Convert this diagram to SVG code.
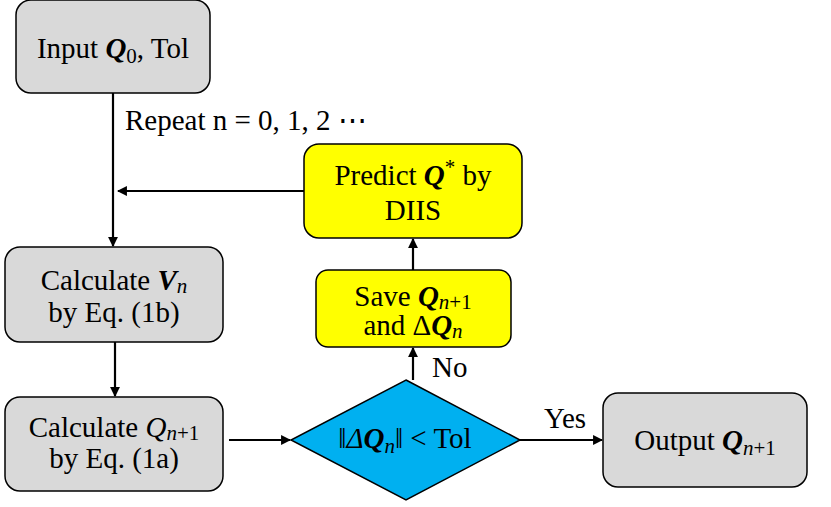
<svg xmlns="http://www.w3.org/2000/svg" width="831" height="507" viewBox="0 0 831 507">
<style>
.box{stroke:#000;stroke-width:1.5}
.gray{fill:#d9d9d9}
.yel{fill:#ffff00}
.blue{fill:#00b0f0}
text{font-family:"Liberation Serif","Times New Roman",serif;font-size:29px;fill:#000}
.c{text-anchor:middle}
.m{font-style:italic;font-weight:bold}
.i{font-style:italic}
.s{font-size:21px}
.ln{stroke:#000;stroke-width:2.2;fill:none}
</style>
<defs>
<marker id="ah" viewBox="0 0 10 10" refX="9" refY="5" markerWidth="4.5" markerHeight="4.5" orient="auto" markerUnits="strokeWidth">
<path d="M0,0 L10,5 L0,10 z" fill="#000"/>
</marker>
</defs>
<g id="connectors">
<path class="ln" d="M113,93 V246" marker-end="url(#ah)"/>
<path class="ln" d="M304,191 H118" marker-end="url(#ah)"/>
<path class="ln" d="M115,342 V396" marker-end="url(#ah)"/>
<path class="ln" d="M229,440 H290" marker-end="url(#ah)"/>
<path class="ln" d="M520,440 H602" marker-end="url(#ah)"/>
<path class="ln" d="M413,380 V348" marker-end="url(#ah)"/>
<path class="ln" d="M413,270 V239" marker-end="url(#ah)"/>
<text x="125" y="130">Repeat n = 0, 1, 2 ⋯</text>
<text x="565" y="428" class="c">Yes</text>
<text x="432" y="377">No</text>
</g>
<g id="input">
<rect class="box gray" x="16" y="0" width="194" height="93" rx="15"/>
<text x="113" y="58" class="c">Input <tspan class="m">Q</tspan><tspan class="s" dy="5">0</tspan><tspan dy="-5">, Tol</tspan></text>
</g>
<g id="calcV">
<rect class="box gray" x="5" y="247" width="218" height="95" rx="15"/>
<text x="114" y="290" class="c">Calculate <tspan class="m">V</tspan><tspan class="s i" dy="3">n</tspan></text>
<text x="114" y="322" class="c">by Eq. (1b)</text>
</g>
<g id="calcQ">
<rect class="box gray" x="5" y="397" width="218" height="94" rx="15"/>
<text x="114" y="437" class="c">Calculate <tspan class="i">Q</tspan><tspan class="s" dy="3"><tspan class="i">n</tspan>+1</tspan></text>
<text x="114" y="468" class="c">by Eq. (1a)</text>
</g>
<g id="predict">
<rect class="box yel" x="304" y="144" width="218" height="94" rx="15"/>
<text x="413" y="185" class="c">Predict <tspan class="m">Q</tspan><tspan class="s" dy="-11">*</tspan><tspan dy="11"> by</tspan></text>
<text x="413" y="220" class="c">DIIS</text>
</g>
<g id="save">
<rect class="box yel" x="316" y="270" width="195" height="77" rx="12"/>
<text x="413" y="306" class="c">Save <tspan class="m">Q</tspan><tspan class="s" dy="3"><tspan class="i">n</tspan>+1</tspan></text>
<text x="413" y="335" class="c">and Δ<tspan class="m">Q</tspan><tspan class="s i" dy="3">n</tspan></text>
</g>
<g id="check">
<polygon class="box blue" points="406,380 520,440 406,500 291,440"/>
<text x="405" y="448" class="c">‖<tspan class="i">Δ</tspan><tspan class="m">Q</tspan><tspan class="s i" dy="5">n</tspan><tspan dy="-5">‖ &lt; Tol</tspan></text>
</g>
<g id="output">
<rect class="box gray" x="603" y="393" width="204" height="94" rx="15"/>
<text x="705" y="450" class="c">Output <tspan class="m">Q</tspan><tspan class="s" dy="5"><tspan class="i">n</tspan>+1</tspan></text>
</g>
</svg>
